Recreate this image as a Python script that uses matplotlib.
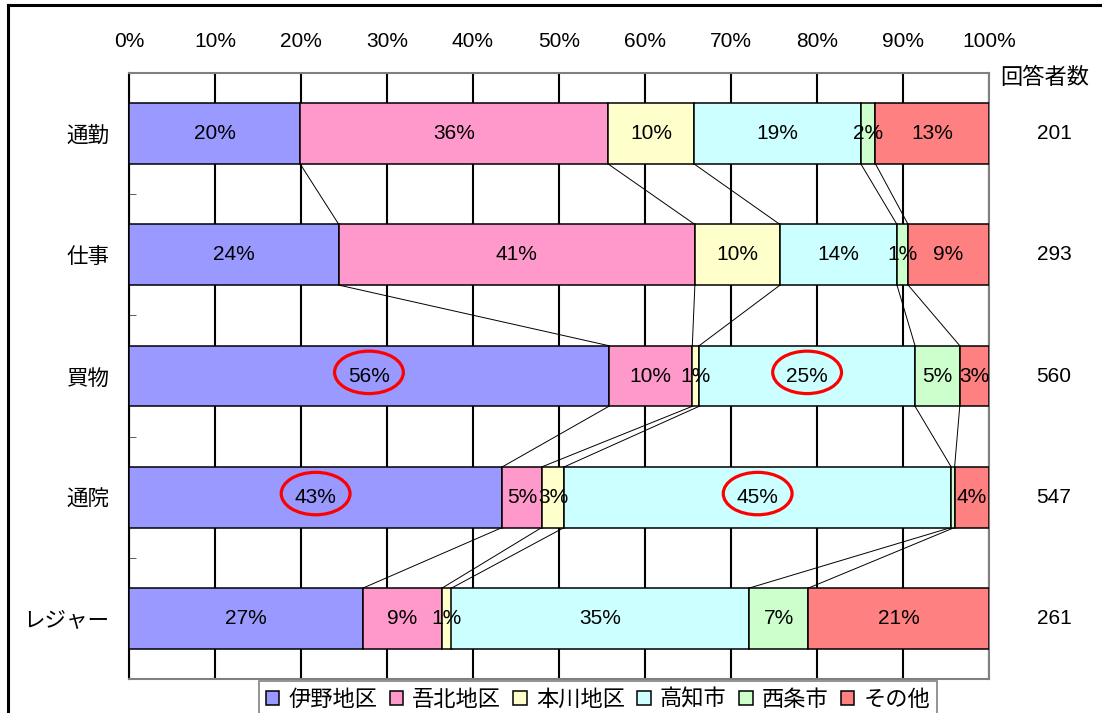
import matplotlib
matplotlib.use('Agg')
import matplotlib.pyplot as plt
from matplotlib.patches import Ellipse
from matplotlib.lines import Line2D
from matplotlib.transforms import blended_transform_factory
import numpy as np

plt.rcParams['font.family'] = ['Noto Sans CJK JP', 'DejaVu Sans']
NUM_FONT = ['Liberation Sans Narrow', 'Liberation Sans', 'DejaVu Sans']

categories = ['通勤', '仕事', '買物', '通院', 'レジャー']
respondents = [201, 293, 560, 547, 261]
series_names = ['伊野地区', '吾北地区', '本川地区', '高知市', '西条市', 'その他']
ino = [19.9, 24.4, 55.8, 43.4, 27.2]
gohoku = [35.8, 41.4, 9.7, 4.6, 9.2]
honkawa = [10.0, 9.9, 0.8, 2.6, 1.1]
kochi = [19.4, 13.6, 25.1, 45.0, 34.6]
saijo = [1.7, 1.3, 5.2, 0.4, 6.9]
other = [13.2, 9.4, 3.4, 4.0, 21.0]
colors = ['#9999FF', '#FF99CC', '#FFFFCC', '#CCFFFF', '#CCFFCC', '#FF8080']
# (category, series) pairs circled in red
highlights = [(2, 0), (2, 3), (3, 0), (3, 3)]

data = np.array([ino, gohoku, honkawa, kochi, saijo, other])
cum = np.cumsum(data, axis=0)
left = cum - data
y = np.arange(len(categories))
h = 0.5

fig = plt.figure(figsize=(11.02, 7.13), dpi=100)
ax = fig.add_axes([129 / 1102, 1 - 679 / 713, 860 / 1102, 606 / 713])

bars = []
for i, name in enumerate(series_names):
    b = ax.barh(y, data[i], left=left[i], height=h, color=colors[i],
                edgecolor='black', linewidth=1.1, label=name, zorder=3)
    bars.append(b)
    for j in range(len(categories)):
        v = data[i, j]
        if v < 0.5:
            continue
        ax.text(left[i, j] + v / 2, y[j], f'{v:.0f}%', ha='center', va='center',
                fontsize=15, family=NUM_FONT, zorder=5)

# series lines between neighbouring bars
for i in range(len(series_names) - 1):
    for j in range(len(categories) - 1):
        ax.plot([cum[i, j], cum[i, j + 1]], [y[j] + h / 2, y[j + 1] - h / 2],
                color='black', lw=0.7, zorder=2)

for j, i in highlights:
    ax.add_patch(Ellipse((left[i, j] + data[i, j] / 2, y[j] - 0.03), 8.0, 0.35,
                         fill=False, edgecolor='#FF0000', lw=2.3, zorder=6))

ax.set_xlim(0, 100)
ax.set_ylim(len(categories) - 0.5, -0.5)
ax.set_xticks(np.arange(0, 101, 10))
ax.set_xticklabels([f'{t}%' for t in range(0, 101, 10)], family=NUM_FONT, fontsize=15)
ax.xaxis.tick_top()
ax.tick_params(axis='x', length=0, pad=16)
ax.set_yticks(y)
ax.set_yticklabels(categories, fontsize=15.5)
ax.tick_params(axis='y', which='major', length=0, pad=14)
ax.set_yticks(np.arange(0.5, len(categories) - 0.5, 1), minor=True)
ax.tick_params(axis='y', which='minor', direction='in', length=5, color='#404040')
ax.grid(axis='x', color='black', lw=1.5, zorder=0)
ax.set_axisbelow(True)
for s in ['top', 'right', 'bottom']:
    ax.spines[s].set_color('#808080')
    ax.spines[s].set_linewidth(1.5)
ax.spines['left'].set_linewidth(1.5)

tr = blended_transform_factory(fig.transFigure, ax.transData)
fig.text(1045 / 1102, 1 - 78 / 713, '回答者数', ha='center', va='center', fontsize=16)
for j, n in enumerate(respondents):
    ax.text(1054 / 1102, y[j], str(n), transform=tr, ha='center', va='center',
            fontsize=15, family=NUM_FONT)

leg = fig.legend(handles=bars, loc='upper left', bbox_to_anchor=(259 / 1102, 1 - 681 / 713),
                 ncol=6, fontsize=16, frameon=True, fancybox=False, edgecolor='#808080',
                 framealpha=1, borderaxespad=0, borderpad=0.3, handlelength=0.62,
                 handleheight=0.62, handletextpad=0.4, columnspacing=0.55)
leg.get_frame().set_linewidth(1.2)

# outer chart frame
fig.add_artist(Line2D([8 / 1102, 8 / 1102], [0, 1 - 5 / 713], color='black', lw=2.2))
fig.add_artist(Line2D([8 / 1102, 1], [1 - 5 / 713, 1 - 5 / 713], color='black', lw=2.2))

fig.savefig('out.png', dpi=100)
